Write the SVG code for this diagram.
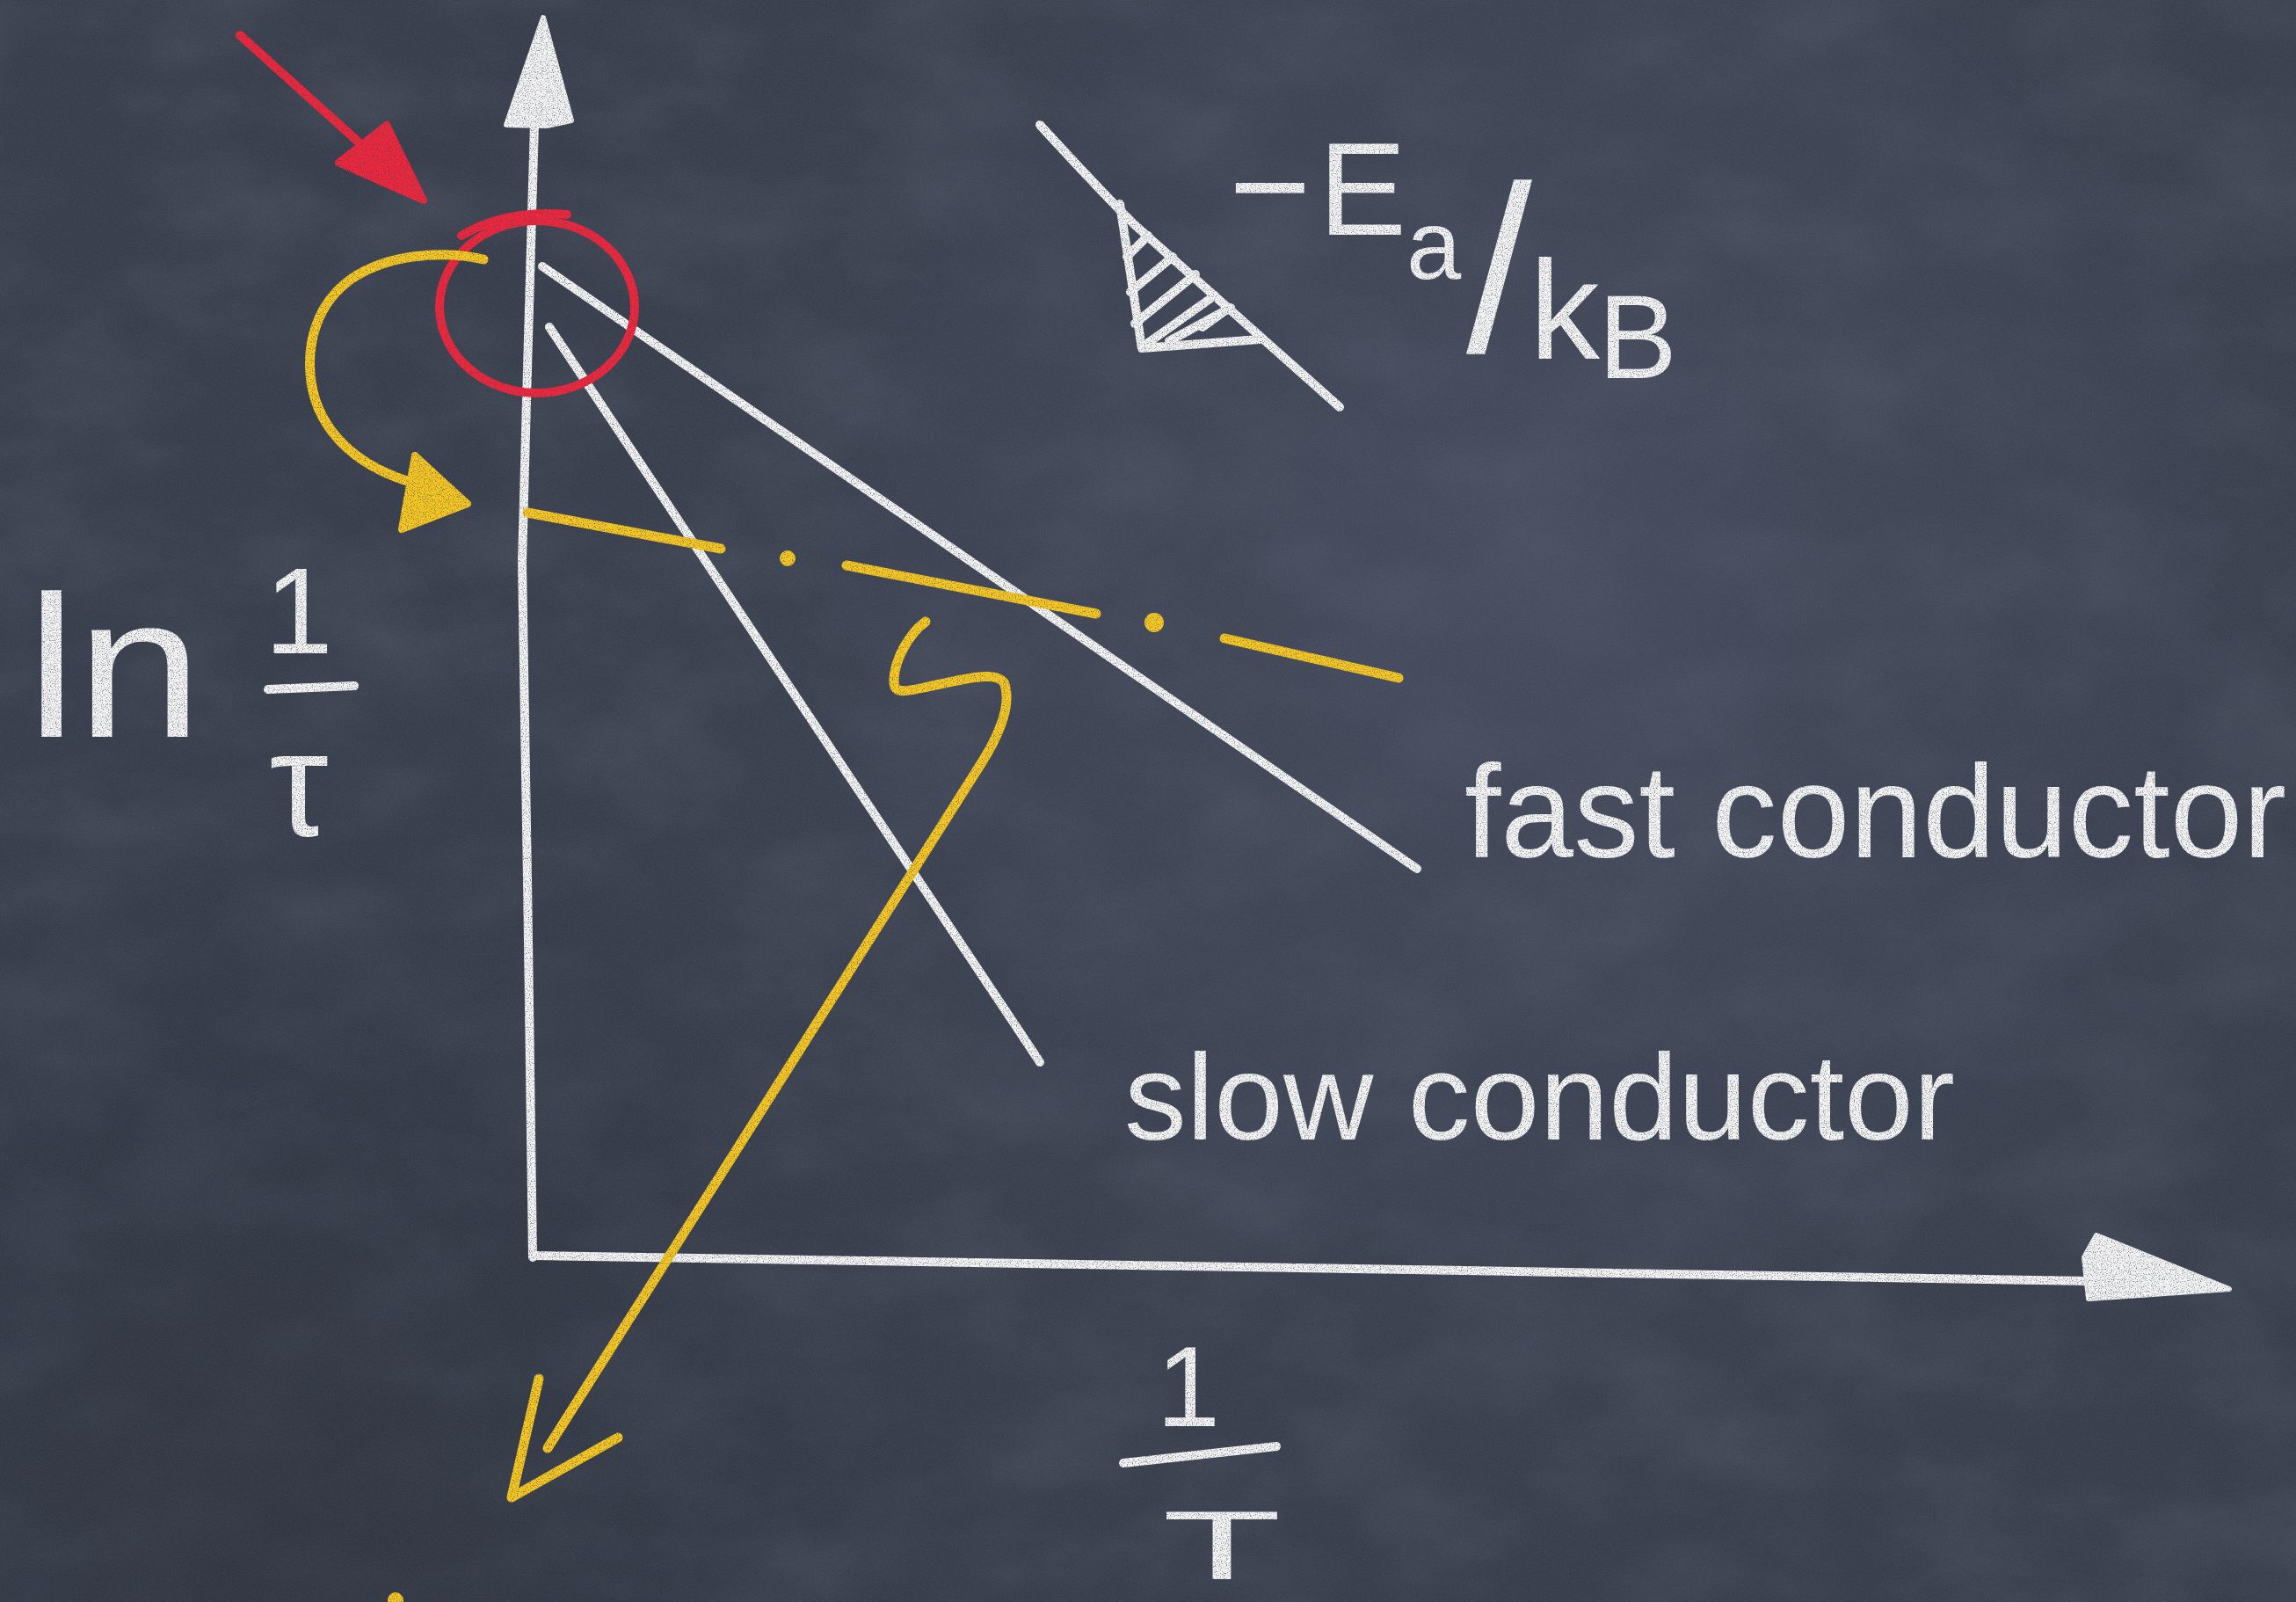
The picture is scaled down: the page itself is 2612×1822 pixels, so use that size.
<svg xmlns="http://www.w3.org/2000/svg" width="2612" height="1822" viewBox="0 0 2612 1822">
<defs>
<radialGradient id="glow" gradientUnits="userSpaceOnUse" cx="1750" cy="650" r="1400">
<stop offset="0" stop-color="#535b70" stop-opacity="0.5"/>
<stop offset="0.6" stop-color="#474e61" stop-opacity="0.2"/>
<stop offset="1" stop-color="#2f3442" stop-opacity="0"/>
</radialGradient>
<radialGradient id="shade" gradientUnits="userSpaceOnUse" cx="300" cy="1700" r="900">
<stop offset="0" stop-color="#2a2e39" stop-opacity="0.55"/>
<stop offset="1" stop-color="#2a2e39" stop-opacity="0"/>
</radialGradient>
<filter id="mottle" filterUnits="userSpaceOnUse" x="0" y="0" width="2612" height="1822">
<feTurbulence type="fractalNoise" baseFrequency="0.006 0.01" numOctaves="4" seed="11"/>
<feColorMatrix type="matrix" values="0 0 0 0 0.5  0 0 0 0 0.55  0 0 0 0 0.65  0 0 0 0.6 -0.22"/>
</filter>
<filter id="grain" filterUnits="userSpaceOnUse" x="0" y="0" width="2612" height="1822">
<feTurbulence type="fractalNoise" baseFrequency="0.7" numOctaves="2" seed="5"/>
<feColorMatrix type="matrix" values="0 0 0 0 0.55  0 0 0 0 0.58  0 0 0 0 0.67  0 0 0 0.35 -0.12"/>
</filter>
<filter id="chalk" filterUnits="userSpaceOnUse" x="0" y="0" width="2612" height="1822">
<feTurbulence type="fractalNoise" baseFrequency="0.85" numOctaves="2" seed="3" result="noise"/>
<feColorMatrix in="noise" type="matrix" values="0 0 0 0 0  0 0 0 0 0  0 0 0 0 0  0 0 0 -2.2 2.1" result="mask"/>
<feComposite in="SourceGraphic" in2="mask" operator="in"/>
</filter>
<style>
.w{fill:none;stroke:#f5f5f5;stroke-width:10;stroke-linecap:round;stroke-linejoin:round}
.wf{fill:#f5f5f5;stroke:#f5f5f5;stroke-width:6;stroke-linejoin:round}
.r{fill:none;stroke:#f0263d;stroke-width:10;stroke-linecap:round;stroke-linejoin:round}
.rf{fill:#f0263d;stroke:#f0263d;stroke-width:8;stroke-linejoin:round}
.y{fill:none;stroke:#f7c823;stroke-width:11;stroke-linecap:round;stroke-linejoin:round}
.yf{fill:#f7c823;stroke:#f7c823;stroke-width:8;stroke-linejoin:round}
.t{fill:#f5f5f5;font-family:"Liberation Sans","DejaVu Sans",sans-serif}
</style>
</defs>

<g id="board">
<rect x="0" y="0" width="2612" height="1822" fill="#383d4b"/>
<rect x="0" y="0" width="2612" height="1822" filter="url(#mottle)" opacity="0.3"/>
<rect x="0" y="0" width="2612" height="1822" fill="url(#glow)"/>
<rect x="0" y="0" width="2612" height="1822" fill="url(#shade)"/>
<rect x="0" y="0" width="2612" height="1822" filter="url(#grain)" opacity="0.45"/>
</g>

<g id="connectors" filter="url(#chalk)">
<g id="y-axis">
<path class="w" d="M606,1430 L600,1000 L594,640 L600,420 L608,140"/>
<polygon class="wf" points="618,20 650,137 622,143 576,142"/>
</g>
<g id="x-axis">
<path class="w" d="M606,1428 L1666,1445 L2378,1457"/>
<polygon class="wf" points="2536,1466 2385,1405 2371,1430 2376,1477"/>
</g>
<path id="fast-line" class="w" d="M617,303 L1612,988"/>
<path id="slow-line" class="w" d="M625,372 L1183,1208"/>
<g id="slope-marker">
<path class="w" d="M1183,142 Q1250,215 1290,255 Q1420,370 1524,463"/>
<path class="w" d="M1274,232 L1299,396 L1433,386"/>
<path class="w" d="M1282,292 L1306,268 M1286,332 L1334,292 M1291,368 L1360,312 M1306,390 L1382,336 M1330,388 L1400,350 M1368,372 L1390,356"/>
</g>
<g id="red-arrow">
<path class="r" d="M273,40 L415,168"/>
<polygon class="rf" points="385,185 440,142 482,228"/>
</g>
<g id="red-circle">
<ellipse class="r" cx="611" cy="349" rx="111" ry="98"/>
<path class="r" d="M525,268 Q575,238 645,244"/>
</g>
<g id="yellow-shift-arrow">
<path class="y" d="M550,295 C500,284 440,290 400,317 C360,345 350,390 353,425 C357,480 395,525 463,547"/>
<polygon class="yf" points="472,518 532,573 457,602"/>
</g>
<g id="yellow-dashdot">
<path class="y" d="M600,583 L820,624 M963,643 L1247,698 M1393,726 L1591,771"/>
<circle cx="896" cy="635" r="9" fill="#f7c823"/>
<circle cx="1313" cy="708" r="11" fill="#f7c823"/>
</g>
<g id="yellow-long-arrow">
<path class="y" d="M1053,707 C1035,720 1017,750 1017,775 C1017,790 1030,787 1060,780 C1100,772 1135,762 1143,778 C1150,800 1140,830 1117,867 L623,1647"/>
<path class="y" d="M613,1568 L582,1703 L703,1635"/>
<circle cx="450" cy="1820" r="9" fill="#f7c823"/>
</g>
</g>

<g id="labels" filter="url(#chalk)">
<g id="label-ln-inv-tau">
<text class="t" x="30" y="838" font-size="230" textLength="200" lengthAdjust="spacingAndGlyphs">ln</text>
<text class="t" x="340" y="743" font-size="140" text-anchor="middle">1</text>
<path class="w" d="M305,784 L403,780"/>
<text class="t" x="340" y="950" font-size="170" text-anchor="middle">τ</text>
</g>
<g id="label-slope">
<text class="t"><tspan x="1398" y="267" font-size="160">−</tspan><tspan x="1500" y="267" font-size="150">E</tspan><tspan x="1600" y="317" font-size="112">a</tspan><tspan x="1668" y="400" font-size="270">/</tspan><tspan x="1740" y="408" font-size="160">k</tspan><tspan x="1818" y="430" font-size="135">B</tspan></text>
</g>
<g id="label-fast">
<text class="t" x="1666" y="975" font-size="150" textLength="935" lengthAdjust="spacingAndGlyphs">fast conductor</text>
</g>
<g id="label-slow">
<text class="t" x="1279" y="1296" font-size="140" textLength="945" lengthAdjust="spacingAndGlyphs">slow conductor</text>
</g>
<g id="label-inv-T">
<text class="t" x="1352" y="1622" font-size="130" text-anchor="middle">1</text>
<path class="w" d="M1278,1664 L1452,1645"/>
<text class="t" x="1322" y="1796" font-size="112" textLength="136" lengthAdjust="spacingAndGlyphs">T</text>
</g>
</g>
</svg>
